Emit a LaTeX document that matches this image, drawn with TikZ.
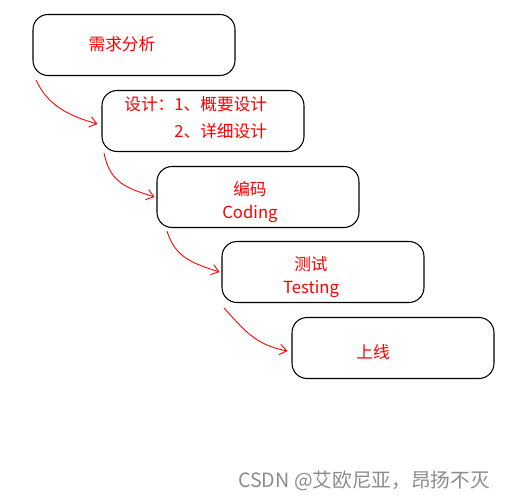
\documentclass[tikz,border=0pt]{standalone}
\usepackage{fontspec}
\setmainfont{Noto Sans CJK SC}
\usetikzlibrary{arrows.meta}

\tikzset{
  stage/.style={draw, rectangle, rounded corners=0.3cm, line width=0.6pt, minimum width=4.04cm, minimum height=1.22cm},
  txt/.style={text=red, font=\fontsize{9.5}{13}\selectfont, inner sep=0pt, align=center},
  flow/.style={red, line width=0.5pt, -{Straight Barb[length=4pt,width=6pt]}}
}

\begin{document}
\begin{tikzpicture}[x=0.02cm, y=-0.02cm]
    \useasboundingbox (0,0) rectangle (505,500);

    \node (req) at (134,45) [stage] {};
    \node (des) at (203,121) [stage] {};
    \node (cod) at (258,197) [stage] {};
    \node (tst) at (323,272) [stage] {};
    \node (rel) at (393,348) [stage] {};

    \node (reqtxt) at (122,44) [txt] {需求分析};
    \node (destxt1) at (124,104) [txt, anchor=west] {设计：1、概要设计};
    \node (destxt2) at (174,131) [txt, anchor=west] {2、详细设计};
    \node (codtxt) at (250,202) [txt] {编码\\Coding};
    \node (tsttxt) at (311,277) [txt] {测试\\Testing};
    \node (reltxt) at (373,352) [txt] {上线};

    % free ends of the arrows
    \coordinate (s1) at (36,80);
    \coordinate (s2) at (104,153);
    \coordinate (s3) at (167,231);
    \coordinate (s4) at (224,308);

    \draw [flow] (s1) .. controls +(12,26) and +(-28,-8) .. ([xshift=-4*0.02cm, yshift=-3*0.02cm]des.west);
    \draw [flow] (s2) .. controls +(6,30) and +(-28,-9) .. ([xshift=-2*0.02cm]cod.west);
    \draw [flow] (s3) .. controls +(8,26) and +(-28,-9) .. ([xshift=-2*0.02cm]tst.west);
    \draw [flow] (s4) .. controls +(20,22) and +(-32,-6) .. ([xshift=-4*0.02cm, yshift=-3*0.02cm]rel.west);

    \node (mark) at (364,481) [text=black!45, font=\fontsize{11.2}{13}\selectfont, inner sep=0pt] {CSDN @艾欧尼亚，昂扬不灭};
\end{tikzpicture}
\end{document}
